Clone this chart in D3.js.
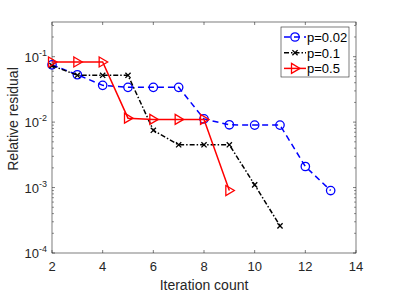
<!DOCTYPE html>
<html>
<head>
<meta charset="utf-8">
<style>
  body { margin: 0; background: #fff; }
  svg { font-family: "Liberation Sans", Arial, sans-serif; }
</style>
<script src="https://cdn.jsdelivr.net/npm/d3@7"></script>
</head>
<body>
<script>
// data
var iters = [2, 3, 4, 5, 6, 7, 8, 9, 10, 11, 12, 13];
var p002 = [0.075, 0.053, 0.0365, 0.034, 0.034, 0.034, 0.0112, 0.0091, 0.009, 0.009, 0.0021, 0.0009];
var p01 = [0.073, 0.052, 0.052, 0.052, 0.0075, 0.0045, 0.0045, 0.0045, 0.0011, 0.00026];
var p05 = [0.083, 0.083, 0.083, 0.0115, 0.011, 0.011, 0.011, 0.0009];
var xTicks = [2, 4, 6, 8, 10, 12, 14];
var yTicks = [1e-4, 1e-3, 1e-2, 1e-1];
var seriesNames = ["p=0.02", "p=0.1", "p=0.5"];

var width = 393, height = 294;
var margin = { top: 22, left: 52, bottom: 41, right: 37 };
var axisCol = "#262626";

var svg = d3.select("body").append("svg")
  .attr("width", width)
  .attr("height", height);

var x = d3.scaleLinear().domain([2, 14]).range([margin.left, width - margin.right]);
var y = d3.scaleLog().domain([1e-4, Math.pow(10, -0.47)]).range([height - margin.bottom, margin.top]);

var x0 = x.range()[0], x1 = x.range()[1];
var yb = y.range()[0], yt = y.range()[1];

// minor log ticks
var minor = [];
[-4, -3, -2, -1].forEach(function (e) {
  for (var k = 2; k <= 9; k++) {
    var v = k * Math.pow(10, e);
    if (v <= y.domain()[1]) minor.push(v);
  }
});

var g = svg.append("g").attr("id", "axes");

// box
g.append("rect")
  .attr("x", x0).attr("y", yt)
  .attr("width", x1 - x0).attr("height", yb - yt)
  .attr("fill", "none").attr("stroke", axisCol).attr("stroke-width", 0.6);

// x ticks bottom + top, inward
xTicks.forEach(function (t) {
  g.append("line").attr("x1", x(t)).attr("x2", x(t)).attr("y1", yb).attr("y2", yb - 3)
    .attr("stroke", axisCol).attr("stroke-width", 0.6);
  g.append("line").attr("x1", x(t)).attr("x2", x(t)).attr("y1", yt).attr("y2", yt + 3)
    .attr("stroke", axisCol).attr("stroke-width", 0.6);
  g.append("text").attr("x", x(t)).attr("y", yb + 18)
    .attr("text-anchor", "middle").attr("font-size", 13).attr("fill", axisCol)
    .text(t);
});

// y ticks
yTicks.forEach(function (t) {
  g.append("line").attr("x1", x0).attr("x2", x0 + 3).attr("y1", y(t)).attr("y2", y(t))
    .attr("stroke", axisCol).attr("stroke-width", 0.6);
  g.append("line").attr("x1", x1).attr("x2", x1 - 3).attr("y1", y(t)).attr("y2", y(t))
    .attr("stroke", axisCol).attr("stroke-width", 0.6);
  var lab = g.append("text").attr("x", x0 - 5).attr("y", y(t) + 5)
    .attr("text-anchor", "end").attr("font-size", 13).attr("fill", axisCol);
  lab.append("tspan").text("10");
  lab.append("tspan").attr("font-size", 9).attr("dy", -6).text(Math.round(Math.log10(t)));
});
minor.forEach(function (t) {
  g.append("line").attr("x1", x0).attr("x2", x0 + 2).attr("y1", y(t)).attr("y2", y(t))
    .attr("stroke", axisCol).attr("stroke-width", 0.5);
  g.append("line").attr("x1", x1).attr("x2", x1 - 2).attr("y1", y(t)).attr("y2", y(t))
    .attr("stroke", axisCol).attr("stroke-width", 0.5);
});

// axis labels
svg.append("text").attr("x", (x0 + x1) / 2).attr("y", 290)
  .attr("text-anchor", "middle").attr("font-size", 14).attr("fill", axisCol)
  .text("Iteration count");
svg.append("text")
  .attr("transform", "translate(18," + 119 + ") rotate(-90)")
  .attr("text-anchor", "middle").attr("font-size", 14).attr("fill", axisCol)
  .text("Relative residual");

// series
var series = [
  { name: seriesNames[0], vals: p002, color: "#0000ff", dash: "6,4", marker: "circle" },
  { name: seriesNames[1], vals: p01, color: "#000000", dash: "5,2,1.5,2", marker: "x" },
  { name: seriesNames[2], vals: p05, color: "#ff0000", dash: null, marker: "tri" }
];

var line = d3.line().x(function (d) { return x(d[0]); }).y(function (d) { return y(d[1]); });

function drawMarker(sel, type, cx, cy, color) {
  if (type === "circle") {
    sel.append("circle").attr("cx", cx).attr("cy", cy).attr("r", 4.2)
      .attr("fill", "none").attr("stroke", color).attr("stroke-width", 1.3);
  } else if (type === "x") {
    var s = 2.6;
    sel.append("path")
      .attr("d", "M" + (cx - s) + "," + (cy - s) + "L" + (cx + s) + "," + (cy + s) +
        "M" + (cx - s) + "," + (cy + s) + "L" + (cx + s) + "," + (cy - s))
      .attr("stroke", color).attr("stroke-width", 1.3).attr("fill", "none");
  } else {
    var r = 5;
    sel.append("path")
      .attr("d", "M" + (cx - r * 0.7) + "," + (cy - r) + "L" + (cx + r) + "," + cy +
        "L" + (cx - r * 0.7) + "," + (cy + r) + "Z")
      .attr("stroke", color).attr("stroke-width", 1.3).attr("fill", "none");
  }
}

var plot = svg.append("g").attr("id", "series");
series.forEach(function (s) {
  var pts = s.vals.map(function (v, i) { return [iters[i], v]; });
  plot.append("path").datum(pts)
    .attr("d", line)
    .attr("fill", "none")
    .attr("stroke", s.color)
    .attr("stroke-width", 1.5)
    .attr("stroke-dasharray", s.dash);
  pts.forEach(function (p) { drawMarker(plot, s.marker, x(p[0]), y(p[1]), s.color); });
});

// legend
var lg = svg.append("g").attr("id", "legend");
lg.append("rect").attr("x", 281).attr("y", 27).attr("width", 68).attr("height", 50)
  .attr("fill", "#fff").attr("stroke", axisCol).attr("stroke-width", 0.6);
series.forEach(function (s, i) {
  var ly = 37 + i * 15.7;
  lg.append("line").attr("x1", 284).attr("x2", 306).attr("y1", ly).attr("y2", ly)
    .attr("stroke", s.color).attr("stroke-width", 1.5).attr("stroke-dasharray", s.dash);
  drawMarker(lg, s.marker, 295, ly, s.color);
  lg.append("text").attr("x", 307).attr("y", ly + 5)
    .attr("font-size", 13).attr("fill", "#000").text(s.name);
});
</script>
</body>
</html>
